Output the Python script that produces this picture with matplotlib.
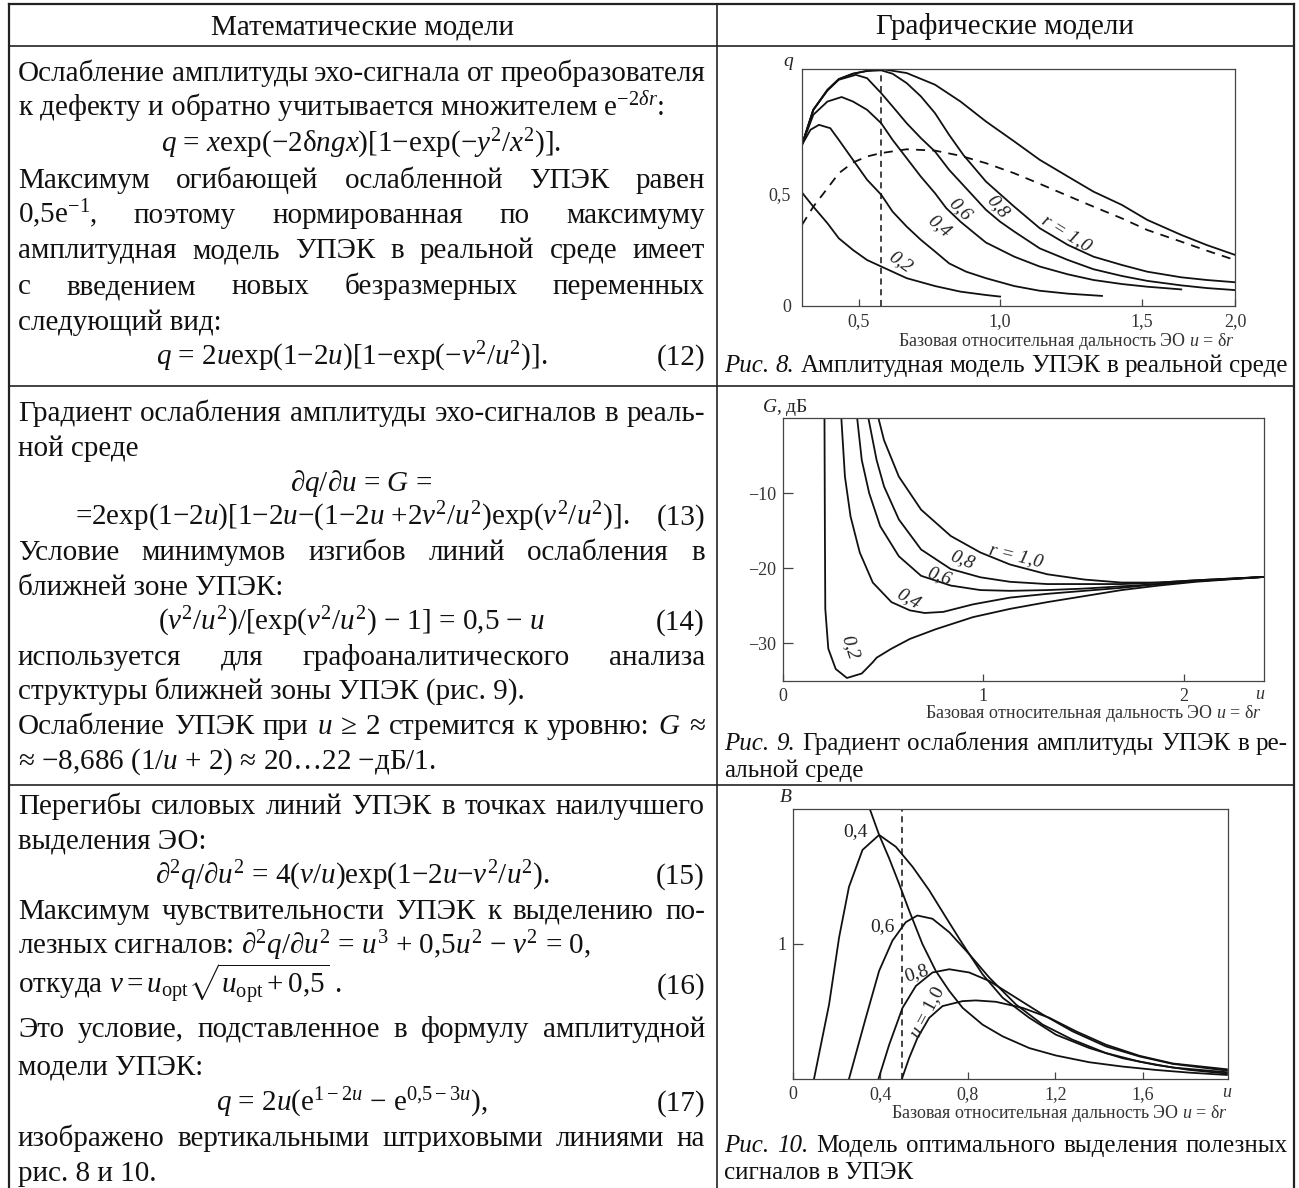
import matplotlib
matplotlib.use("Agg")
import matplotlib.pyplot as plt

plt.rcParams["font.family"] = ["Liberation Serif", "DejaVu Serif"]
plt.rcParams["mathtext.fontset"] = "custom"
plt.rcParams["mathtext.rm"] = "Liberation Serif"
plt.rcParams["mathtext.it"] = "Liberation Serif:italic"
plt.rcParams["mathtext.bf"] = "Liberation Serif:bold"

W, H, DPI = 1299, 1188, 100
INK = "#111111"
BODY_PT = 21
HEAD_PT = 21
CAP_PT = 18

# ---- left column text -------------------------------------------------------
# (mode, text, equation number) ; mode: j = justified, l = left, c = centred
row1_lines = [
    ("j", "Ослабление амплитуды эхо-сигнала от преобразователя", ""),
    ("l", "к дефекту и обратно учитывается множителем e$^{-2\\delta r}$:", ""),
    ("c", "$q$ = $x$exp(−2δ$ngx$)[1−exp(−$y^2$/$x^2$)].", ""),
    ("j", "Максимум огибающей ослабленной УПЭК равен", ""),
    ("j", "0,5e$^{-1}$, поэтому нормированная по максимуму", ""),
    ("j", "амплитудная модель УПЭК в реальной среде имеет", ""),
    ("j", "с введением новых безразмерных переменных", ""),
    ("l", "следующий вид:", ""),
    ("c", "$q$ = 2$u$exp(1−2$u$)[1−exp(−$v^2$/$u^2$)].", "(12)"),
]
row2_lines = [
    ("j", "Градиент ослабления амплитуды эхо-сигналов в реаль-", ""),
    ("l", "ной среде", ""),
    ("c", "∂$q$/∂$u$ = $G$ =", ""),
    ("c", "=2exp(1−2$u$)[1−2$u$−(1−2$u$ +2$v^2$/$u^2$)exp($v^2$/$u^2$)].", "(13)"),
    ("j", "Условие минимумов изгибов линий ослабления в", ""),
    ("l", "ближней зоне УПЭК:", ""),
    ("c", "($v^2$/$u^2$)/[exp($v^2$/$u^2$) − 1] = 0,5 − $u$", "(14)"),
    ("j", "используется для графоаналитического анализа", ""),
    ("l", "структуры ближней зоны УПЭК (рис. 9).", ""),
    ("j", "Ослабление УПЭК при $u$ ≥ 2 стремится к уровню: $G$ ≈", ""),
    ("l", "≈ −8,686 (1/$u$ + 2) ≈ 20…22 −дБ/1.", ""),
]
row3_lines = [
    ("j", "Перегибы силовых линий УПЭК в точках наилучшего", ""),
    ("l", "выделения ЭО:", ""),
    ("c", "∂$^2q$/∂$u^2$ = 4($v$/$u$)exp(1−2$u$−$v^2$/$u^2$).", "(15)"),
    ("j", "Максимум чувствительности УПЭК к выделению по-", ""),
    ("l", "лезных сигналов: ∂$^2q$/∂$u^2$ = $u^3$ + 0,5$u^2$ − $v^2$ = 0,", ""),
    ("l", "откуда $v = u_{\\mathrm{opt}}\\sqrt{u_{\\mathrm{opt}} + 0{,}5}$ .", "(16)"),
    ("j", "Это условие, подставленное в формулу амплитудной", ""),
    ("l", "модели УПЭК:", ""),
    ("c", "$q$ = 2$u$(e$^{1-2u}$ − e$^{0{,}5-3u}$),", "(17)"),
    ("j", "изображено вертикальными штриховыми линиями на", ""),
    ("l", "рис. 8 и 10.", ""),
]
row1_y = [72, 107.5, 143, 178.5, 214, 249.5, 285, 320.5, 356]
row2_y = [412, 447, 482, 516, 551, 586, 621, 656, 690, 725, 760]
row3_y = [805, 840, 875, 910, 945, 985, 1028, 1065, 1102, 1137, 1172]

captions = [
    ("j", "_Рис. _8. Амплитудная модель УПЭК в реальной среде", 365),
    ("j", "_Рис. _9. Градиент ослабления амплитуды УПЭК в ре-", 743),
    ("l", "альной среде", 770),
    ("j", "_Рис. _10. Модель оптимального выделения полезных", 1145),
    ("l", "сигналов в УПЭК", 1172),
]
x_label = "Базовая относительная дальность ЭО $u$ = δ$r$"

# ---- Fig. 8: amplitude model q(u) -------------------------------------------
fig8_u_opt = 0.579
fig8_u_env = [0.30, 0.34, 0.39, 0.43, 0.48, 0.53, 0.58, 0.67, 0.77, 0.86,
              0.95, 1.05, 1.14, 1.24, 1.33, 1.43, 1.52, 1.64, 1.73, 1.83]
fig8_q_env = [0.719, 0.875, 0.964, 1.012, 1.036, 1.049, 1.057, 1.039, 0.987, 0.912,
              0.823, 0.734, 0.652, 0.577, 0.510, 0.451, 0.384, 0.317, 0.272, 0.228]
fig8_q_dash = [0.362, 0.443, 0.525, 0.592, 0.640, 0.667, 0.682, 0.699, 0.693, 0.670,
               0.637, 0.592, 0.545, 0.491, 0.443, 0.391, 0.339, 0.287, 0.247, 0.205]
fig8_u02 = [0.30, 0.34, 0.39, 0.43, 0.48, 0.53, 0.58, 0.67, 0.77, 0.86, 0.95, 1.00]
fig8_q02 = [0.506, 0.443, 0.369, 0.302, 0.250, 0.205, 0.176, 0.124, 0.089, 0.064, 0.049, 0.042]
fig8_u04 = [0.30, 0.33, 0.36, 0.40, 0.43, 0.48, 0.53, 0.58, 0.62, 0.67,
            0.72, 0.77, 0.82, 0.88, 0.95, 1.05, 1.14, 1.24, 1.36]
fig8_q04 = [0.719, 0.786, 0.808, 0.793, 0.741, 0.652, 0.563, 0.496, 0.421, 0.354,
            0.295, 0.243, 0.190, 0.153, 0.124, 0.089, 0.068, 0.055, 0.045]
fig8_u06 = [0.30, 0.34, 0.39, 0.44, 0.48, 0.53, 0.58, 0.62, 0.67, 0.72, 0.77,
            0.81, 0.86, 0.91, 0.95, 1.05, 1.14, 1.24, 1.33, 1.43, 1.52, 1.64]
fig8_q06 = [0.719, 0.853, 0.912, 0.932, 0.912, 0.875, 0.815, 0.741, 0.659, 0.577, 0.503,
            0.436, 0.376, 0.324, 0.283, 0.220, 0.176, 0.141, 0.116, 0.098, 0.086, 0.074]
fig8_u08 = [0.30, 0.34, 0.39, 0.43, 0.49, 0.53, 0.58, 0.62, 0.67, 0.72, 0.77, 0.82,
            0.88, 0.95, 1.00, 1.05, 1.14, 1.24, 1.33, 1.43, 1.52, 1.64, 1.73, 1.83]
fig8_q08 = [0.719, 0.875, 0.961, 1.009, 1.031, 1.016, 0.949, 0.890, 0.815, 0.749, 0.689, 0.607,
            0.525, 0.429, 0.376, 0.332, 0.257, 0.205, 0.164, 0.134, 0.112, 0.092, 0.080, 0.071]
fig8_u10 = [0.30, 0.34, 0.39, 0.43, 0.48, 0.53, 0.58, 0.62, 0.67, 0.72, 0.77, 0.82,
            0.87, 0.95, 1.05, 1.14, 1.24, 1.33, 1.43, 1.52, 1.64, 1.73, 1.83]
fig8_q10 = [0.719, 0.875, 0.964, 1.012, 1.036, 1.048, 1.051, 1.036, 0.994, 0.935, 0.860, 0.763,
            0.674, 0.555, 0.443, 0.347, 0.272, 0.220, 0.183, 0.153, 0.128, 0.116, 0.106]
fig8_labels = ["0,2", "0,4", "0,6", "0,8", "$r$ = 1,0"]
fig8_label_u = [0.647, 0.786, 0.857, 0.992, 1.232]
fig8_label_q = [0.198, 0.354, 0.432, 0.443, 0.324]
fig8_label_rot = [-35, -40, -45, -50, -32]

# ---- Fig. 9: gradient G(u), dB ----------------------------------------------
fig9_u02 = [0.207, 0.209, 0.211, 0.226, 0.263, 0.319, 0.393, 0.448, 0.467, 0.541,
            0.633, 0.763, 0.948, 1.133, 1.319, 1.504, 1.689, 1.874, 2.059, 2.40]
fig9_g02 = [0.0, -15.0, -25.4, -30.7, -33.4, -34.6, -34.0, -32.5, -31.9, -30.7,
            -29.4, -28.1, -26.5, -25.4, -24.5, -23.7, -22.9, -22.3, -21.8, -21.15]
fig9_u04 = [0.291, 0.309, 0.337, 0.383, 0.448, 0.541, 0.633, 0.707, 0.800,
            0.948, 1.133, 1.319, 1.504, 1.689, 1.874, 2.059, 2.40]
fig9_g04 = [0.0, -7.8, -13.1, -17.9, -21.9, -24.5, -25.6, -25.95, -25.8,
            -24.8, -23.9, -23.4, -23.0, -22.6, -22.1, -21.7, -21.15]
fig9_u06 = [0.370, 0.393, 0.430, 0.485, 0.578, 0.689, 0.837, 0.985,
            1.133, 1.319, 1.504, 1.689, 1.874, 2.059, 2.40]
fig9_g06 = [0.0, -5.6, -10.0, -14.4, -18.4, -21.0, -22.3, -22.9,
            -23.0, -22.9, -22.7, -22.4, -22.1, -21.7, -21.15]
fig9_u08 = [0.426, 0.467, 0.504, 0.578, 0.689, 0.837, 0.985,
            1.133, 1.319, 1.504, 1.689, 1.874, 2.059, 2.40]
fig9_g08 = [0.0, -5.6, -9.1, -13.5, -17.5, -20.1, -21.2,
            -21.8, -22.1, -22.1, -22.1, -21.9, -21.6, -21.15]
fig9_u10 = [0.476, 0.504, 0.578, 0.689, 0.837, 0.985, 1.133,
            1.319, 1.504, 1.689, 1.874, 2.059, 2.40]
fig9_g10 = [0.0, -2.95, -7.8, -12.2, -15.7, -17.9, -19.5,
            -20.8, -21.5, -21.9, -21.9, -21.6, -21.15]
fig9_labels = ["0,2", "0,4", "0,6", "0,8", "$r$ = 1,0"]
fig9_label_u = [0.337, 0.624, 0.781, 0.896, 1.161]
fig9_label_g = [-30.5, -24.1, -21.1, -18.8, -18.4]
fig9_label_rot = [-72, -30, -20, -22, -14]

# ---- Fig. 10: optimal selection B(u) ----------------------------------------
fig10_u_opt = 0.5
fig10_u_env = [0.348, 0.394, 0.44, 0.485, 0.531, 0.592, 0.653, 0.715, 0.776,
               0.867, 0.959, 1.081, 1.203, 1.356, 1.508, 1.661, 1.814, 1.985]
fig10_b_env = [2.015, 1.808, 1.634, 1.448, 1.249, 1.0, 0.801, 0.652, 0.527,
               0.403, 0.316, 0.229, 0.174, 0.124, 0.092, 0.067, 0.047, 0.030]
fig10_u04 = [0.096, 0.165, 0.211, 0.256, 0.318, 0.394, 0.470, 0.547, 0.623, 0.699,
             0.776, 0.867, 0.959, 1.081, 1.203, 1.356, 1.508, 1.661, 1.814, 1.985]
fig10_b04 = [0.0, 0.552, 1.05, 1.423, 1.697, 1.808, 1.721, 1.572, 1.398, 1.199,
             1.0, 0.776, 0.602, 0.453, 0.328, 0.229, 0.154, 0.104, 0.067, 0.040]
fig10_u06 = [0.256, 0.333, 0.394, 0.455, 0.516, 0.569, 0.638, 0.715, 0.806,
             0.898, 1.02, 1.142, 1.279, 1.432, 1.585, 1.737, 1.985]
fig10_b06 = [0.0, 0.453, 0.801, 1.025, 1.162, 1.211, 1.187, 1.087, 0.925,
             0.751, 0.552, 0.403, 0.291, 0.192, 0.129, 0.085, 0.050]
fig10_u08 = [0.391, 0.44, 0.501, 0.562, 0.638, 0.715, 0.806, 0.898,
             1.02, 1.142, 1.279, 1.432, 1.585, 1.737, 1.985]
fig10_b08 = [0.0, 0.254, 0.527, 0.689, 0.789, 0.813, 0.789, 0.726,
             0.602, 0.478, 0.353, 0.241, 0.167, 0.112, 0.062]
fig10_u10 = [0.498, 0.531, 0.569, 0.623, 0.684, 0.776, 0.837, 0.928,
             1.05, 1.173, 1.295, 1.432, 1.585, 1.737, 1.985]
fig10_b10 = [0.0, 0.154, 0.303, 0.453, 0.540, 0.577, 0.582, 0.572,
             0.527, 0.453, 0.353, 0.254, 0.172, 0.115, 0.072]
fig10_labels = ["0,4", "0,6", "0,8", "$u$ = 1,0"]
fig10_label_u = [0.287, 0.408, 0.565, 0.615]
fig10_label_b = [1.833, 1.129, 0.784, 0.49]
fig10_label_rot = [0, 0, 18, 62]


fig = plt.figure(figsize=(W / DPI, H / DPI), dpi=DPI)
bg = fig.add_axes([0, 0, 1, 1])
bg.set_xlim(0, W)
bg.set_ylim(H, 0)
bg.axis("off")
rend = fig.canvas.get_renderer()


def put_words(y, line, x0, x1=None, size=BODY_PT):
    objs, widths = [], []
    for w in line.split(" "):
        italic = w.startswith("_")
        t = bg.text(x0, y, w.lstrip("_"), fontsize=size, color=INK,
                    style="italic" if italic else "normal", va="baseline")
        objs.append(t)
        widths.append(t.get_window_extent(renderer=rend).width)
    if x1 is None or len(objs) == 1:
        gap = 0.25 * size * DPI / 72
    else:
        gap = (x1 - x0 - sum(widths)) / (len(objs) - 1)
    x = x0
    for t, w in zip(objs, widths):
        t.set_x(x)
        x += w + gap


def put_block(lines, ys, x0=18, x1=705):
    for (mode, text, num), yc in zip(lines, ys):
        yb = yc + 9
        if mode == "j":
            put_words(yb, text, x0, x1)
        elif mode == "l":
            bg.text(x0, yb, text, fontsize=BODY_PT, color=INK, va="baseline")
        else:
            xc = 352 if num else 361
            bg.text(xc, yb, text, fontsize=BODY_PT, color=INK, va="baseline", ha="center")
        if num:
            bg.text(x1, yb, num, fontsize=BODY_PT, color=INK, va="baseline", ha="right")


# table frame
frame = dict(color="#222222", lw=1.6)
bg.plot([9, 1294], [4, 4], **frame)
bg.plot([9, 9], [4, H], **frame)
bg.plot([1294, 1294], [4, H], **frame)
inner = dict(color="#222222", lw=1.2)
bg.plot([717, 717], [4, H], **inner)
for yy in (46, 386, 785):
    bg.plot([9, 1294], [yy, yy], **inner)

bg.text(363, 27, "Математические модели", fontsize=HEAD_PT, color=INK, ha="center", va="center")
bg.text(1005, 27, "Графические модели", fontsize=HEAD_PT, color=INK, ha="center", va="center")

put_block(row1_lines, row1_y)
put_block(row2_lines, row2_y)
put_block(row3_lines, row3_y)

for mode, text, yc in captions:
    put_words(yc + 7, text, 724, 1288 if mode == "j" else None, size=CAP_PT)


def style_axes(ax):
    for s in ax.spines.values():
        s.set_linewidth(0.9)
        s.set_color("#444444")
    ax.tick_params(direction="in", length=5, width=0.9, color="#444444",
                   labelsize=13, labelcolor="#333333", pad=5)


line_kw = dict(color=INK, lw=1.3)
lab_kw = dict(fontsize=14, color="#222222", ha="center", va="center", rotation_mode="anchor")

# Fig. 8
ax8 = fig.add_axes([802 / W, 1 - 306 / H, 433 / W, 237 / H])
for u, q in [(fig8_u_env, fig8_q_env), (fig8_u02, fig8_q02), (fig8_u04, fig8_q04),
             (fig8_u06, fig8_q06), (fig8_u08, fig8_q08), (fig8_u10, fig8_q10)]:
    ax8.plot(u, q, **line_kw)
ax8.plot(fig8_u_env, fig8_q_dash, color=INK, lw=1.3, ls=(0, (5, 4)))
ax8.axvline(fig8_u_opt, color=INK, lw=1.1, ls=(0, (4, 3)))
ax8.set_xlim(0.30, 1.83)
ax8.set_ylim(0, 1.057)
ax8.set_xticks([0.5, 1.0, 1.5, 1.83], ["0,5", "1,0", "1,5", "2,0"])
ax8.set_yticks([0, 0.5], ["0", "0,5"])
style_axes(ax8)
ax8.tick_params(axis="y", length=0, pad=8)
for s, u, q, r in zip(fig8_labels, fig8_label_u, fig8_label_q, fig8_label_rot):
    ax8.text(u, q, s, rotation=r, style="italic", **lab_kw)
bg.text(788, 62, "q", fontsize=14, style="italic", color="#222222", ha="center", va="center")
bg.text(1235, 342, x_label, fontsize=13, color="#333333", ha="right", va="center")

# Fig. 9
ax9 = fig.add_axes([783 / W, 1 - 681 / H, 481 / W, 263 / H])
for u, g in [(fig9_u02, fig9_g02), (fig9_u04, fig9_g04), (fig9_u06, fig9_g06),
             (fig9_u08, fig9_g08), (fig9_u10, fig9_g10)]:
    ax9.plot(u, g, **line_kw)
ax9.set_xlim(0, 2.4)
ax9.set_ylim(-35, 0)
ax9.set_xticks([0, 1, 2], ["0", "1", "2"])
ax9.set_yticks([-10, -20, -30], ["−10", "−20", "−30"])
style_axes(ax9)
ax9.tick_params(axis="y", length=7)
for s, u, g, r in zip(fig9_labels, fig9_label_u, fig9_label_g, fig9_label_rot):
    ax9.text(u, g, s, rotation=r, style="italic", **lab_kw)
ax9.text(0.993, -0.02, "$u$", transform=ax9.transAxes, fontsize=13,
         color="#333333", ha="center", va="top")
bg.text(785, 407, "$G$, дБ", fontsize=14, color="#222222", ha="center", va="center")
bg.text(1262, 713, x_label, fontsize=13, color="#333333", ha="right", va="center")

# Fig. 10
ax10 = fig.add_axes([793 / W, 1 - 1079 / H, 435 / W, 270 / H])
for u, b in [(fig10_u_env, fig10_b_env), (fig10_u04, fig10_b04), (fig10_u06, fig10_b06),
             (fig10_u08, fig10_b08), (fig10_u10, fig10_b10)]:
    ax10.plot(u, b, **line_kw)
ax10.axvline(fig10_u_opt, color=INK, lw=1.1, ls=(0, (4, 3)))
ax10.set_xlim(0, 1.99)
ax10.set_ylim(0, 2.0)
ax10.set_xticks([0, 0.4, 0.8, 1.2, 1.6], ["0", "0,4", "0,8", "1,2", "1,6"])
ax10.set_yticks([1], ["1"])
style_axes(ax10)
ax10.tick_params(axis="y", length=7)
for s, u, b, r in zip(fig10_labels, fig10_label_u, fig10_label_b, fig10_label_rot):
    ax10.text(u, b, s, rotation=r, **lab_kw)
ax10.text(0.997, -0.02, "$u$", transform=ax10.transAxes, fontsize=13,
          color="#333333", ha="center", va="top")
bg.text(786, 797, "B", fontsize=14, style="italic", color="#222222", ha="center", va="center")
bg.text(1228, 1113, x_label, fontsize=13, color="#333333", ha="right", va="center")

fig.savefig("out.png", dpi=DPI)
